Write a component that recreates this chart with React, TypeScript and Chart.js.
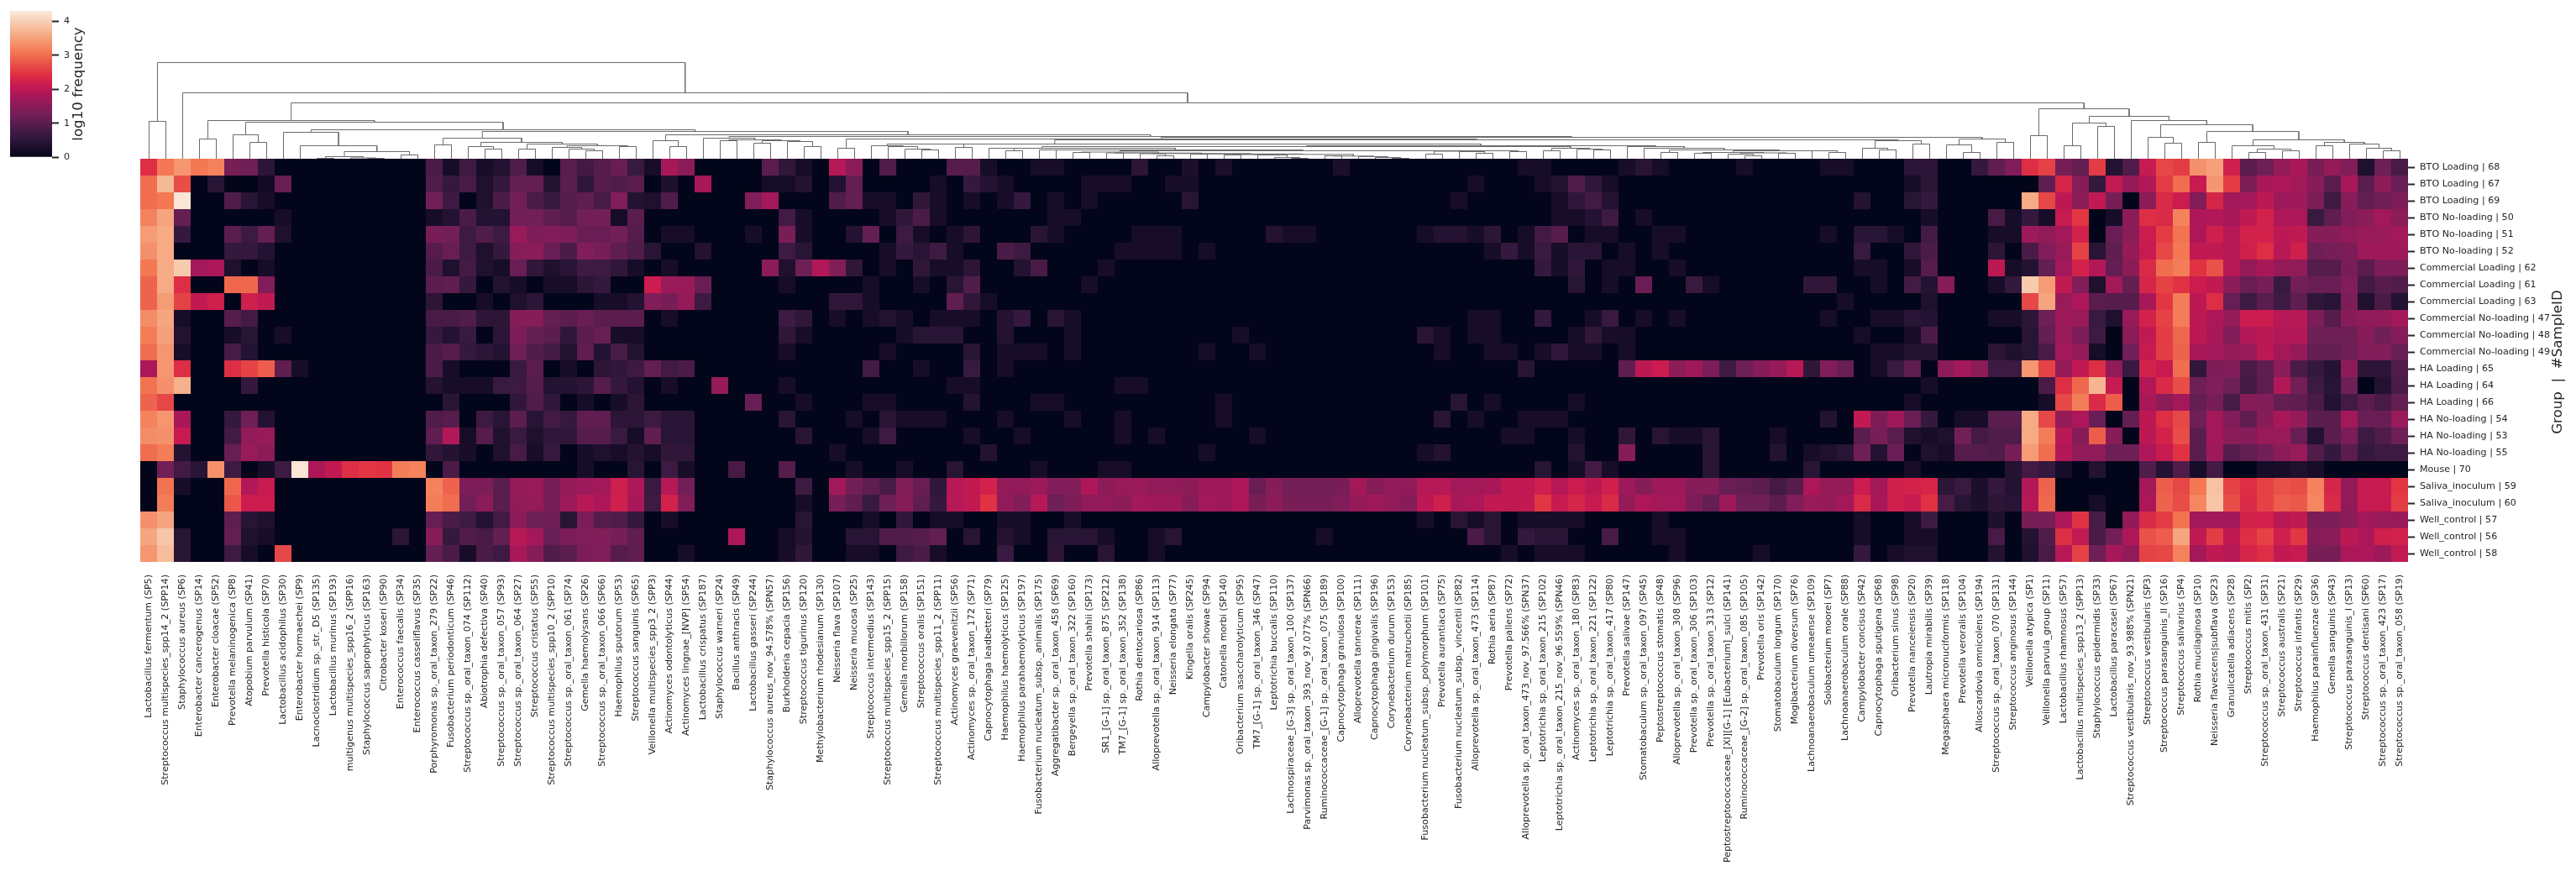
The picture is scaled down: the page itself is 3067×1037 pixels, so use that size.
import React, { useEffect, useRef } from "react";
import { Chart, registerables } from "chart.js";
Chart.register(...registerables);

const FONT = "'DejaVu Sans'";
const INK = "#262626";

const speciesLabels = [
"Lactobacillus fermentum (SP5)","Streptococcus multispecies_spp14_2 (SPP14)","Staphylococcus aureus (SP6)","Enterobacter cancerogenus (SP14)","Enterobacter cloacae (SP52)","Prevotella melaninogenica (SP8)","Atopobium parvulum (SP41)","Prevotella histicola (SP70)","Lactobacillus acidophilus (SP30)","Enterobacter hormaechei (SP9)",
"Lacnoclostridium sp._str._D5 (SP135)","Lactobacillus murinus (SP193)","multigenus multispecies_spp16_2 (SPP16)","Staphylococcus saprophyticus (SP163)","Citrobacter koseri (SP90)","Enterococcus faecalis (SP34)","Enterococcus casseliflavus (SP35)","Porphyromonas sp._oral_taxon_279 (SP22)","Fusobacterium periodonticum (SP46)","Streptococcus sp._oral_taxon_074 (SP112)",
"Abiotrophia defectiva (SP40)","Streptococcus sp._oral_taxon_057 (SP93)","Streptococcus sp._oral_taxon_064 (SP27)","Streptococcus cristatus (SP55)","Streptococcus multispecies_spp10_2 (SPP10)","Streptococcus sp._oral_taxon_061 (SP74)","Gemella haemolysans (SP26)","Streptococcus sp._oral_taxon_066 (SP66)","Haemophilus sputorum (SP53)","Streptococcus sanguinis (SP65)",
"Veillonella multispecies_spp3_2 (SPP3)","Actinomyces odontolyticus (SP44)","Actinomyces lingnae_[NVP] (SP54)","Lactobacillus crispatus (SP187)","Staphylococcus warneri (SP24)","Bacillus anthracis (SP49)","Lactobacillus gasseri (SP244)","Staphylococcus aureus_nov_94.578% (SPN57)","Burkholderia cepacia (SP156)","Streptococcus tigurinus (SP120)",
"Methylobacterium rhodesianum (SP130)","Neisseria flava (SP107)","Neisseria mucosa (SP25)","Streptococcus intermedius (SP143)","Streptococcus multispecies_spp15_2 (SPP15)","Gemella morbillorum (SP158)","Streptococcus oralis (SP151)","Streptococcus multispecies_spp11_2 (SPP11)","Actinomyces graevenitzii (SP56)","Actinomyces sp._oral_taxon_172 (SP71)",
"Capnocytophaga leadbetteri (SP79)","Haemophilus haemolyticus (SP125)","Haemophilus parahaemolyticus (SP197)","Fusobacterium nucleatum_subsp._animalis (SP175)","Aggregatibacter sp._oral_taxon_458 (SP69)","Bergeyella sp._oral_taxon_322 (SP160)","Prevotella shahii (SP173)","SR1_[G-1] sp._oral_taxon_875 (SP212)","TM7_[G-1] sp._oral_taxon_352 (SP138)","Rothia dentocariosa (SP86)",
"Alloprevotella sp._oral_taxon_914 (SP113)","Neisseria elongata (SP77)","Kingella oralis (SP245)","Campylobacter showae (SP94)","Catonella morbi (SP140)","Oribacterium asaccharolyticum (SP95)","TM7_[G-1] sp._oral_taxon_346 (SP47)","Leptotrichia buccalis (SP110)","Lachnospiraceae_[G-3] sp._oral_taxon_100 (SP137)","Parvimonas sp._oral_taxon_393_nov_97.077% (SPN66)",
"Ruminococcaceae_[G-1] sp._oral_taxon_075 (SP189)","Capnocytophaga granulosa (SP100)","Alloprevotella tannerae (SP111)","Capnocytophaga gingivalis (SP196)","Corynebacterium durum (SP153)","Corynebacterium matruchotii (SP185)","Fusobacterium nucleatum_subsp._polymorphum (SP101)","Prevotella aurantiaca (SP75)","Fusobacterium nucleatum_subsp._vincentii (SP82)","Alloprevotella sp._oral_taxon_473 (SP114)",
"Rothia aeria (SP87)","Prevotella pallens (SP72)","Alloprevotella sp._oral_taxon_473_nov_97.566% (SPN37)","Leptotrichia sp._oral_taxon_215 (SP102)","Leptotrichia sp._oral_taxon_215_nov_96.559% (SPN46)","Actinomyces sp._oral_taxon_180 (SP83)","Leptotrichia sp._oral_taxon_221 (SP122)","Leptotrichia sp._oral_taxon_417 (SP80)","Prevotella salivae (SP147)","Stomatobaculum sp._oral_taxon_097 (SP45)",
"Peptostreptococcus stomatis (SP48)","Alloprevotella sp._oral_taxon_308 (SP96)","Prevotella sp._oral_taxon_306 (SP103)","Prevotella sp._oral_taxon_313 (SP12)","Peptostreptococcaceae_[XI][G-1] [Eubacterium]_sulci (SP141)","Ruminococcaceae_[G-2] sp._oral_taxon_085 (SP105)","Prevotella oris (SP142)","Stomatobaculum longum (SP170)","Mogibacterium diversum (SP76)","Lachnoanaerobaculum umeaense (SP109)",
"Solobacterium moorei (SP7)","Lachnoanaerobaculum orale (SP88)","Campylobacter concisus (SP42)","Capnocytophaga sputigena (SP68)","Oribacterium sinus (SP98)","Prevotella nanceiensis (SP20)","Lautropia mirabilis (SP39)","Megasphaera micronuciformis (SP118)","Prevotella veroralis (SP104)","Alloscardovia omnicolens (SP194)",
"Streptococcus sp._oral_taxon_070 (SP131)","Streptococcus anginosus (SP144)","Veillonella atypica (SP1)","Veillonella parvula_group (SP11)","Lactobacillus rhamnosus (SP57)","Lactobacillus multispecies_spp13_2 (SPP13)","Staphylococcus epidermidis (SP33)","Lactobacillus paracasei (SP67)","Streptococcus vestibularis_nov_93.988% (SPN21)","Streptococcus vestibularis (SP3)",
"Streptococcus parasanguinis_II (SP16)","Streptococcus salivarius (SP4)","Rothia mucilaginosa (SP10)","Neisseria flavescens|subflava (SP23)","Granulicatella adiacens (SP28)","Streptococcus mitis (SP2)","Streptococcus sp._oral_taxon_431 (SP31)","Streptococcus australis (SP21)","Streptococcus infantis (SP29)","Haemophilus parainfluenzae (SP36)",
"Gemella sanguinis (SP43)","Streptococcus parasanguinis_I (SP13)","Streptococcus dentisani (SP60)","Streptococcus sp._oral_taxon_423 (SP17)","Streptococcus sp._oral_taxon_058 (SP19)",
];

const sampleLabels = [
"BTO Loading | 68","BTO Loading | 67","BTO Loading | 69","BTO No-loading | 50","BTO No-loading | 51","BTO No-loading | 52",
"Commercial Loading | 62","Commercial Loading | 61","Commercial Loading | 63","Commercial No-loading | 47","Commercial No-loading | 48","Commercial No-loading | 49",
"HA Loading | 65","HA Loading | 64","HA Loading | 66","HA No-loading | 54","HA No-loading | 53","HA No-loading | 55",
"Mouse | 70","Saliva_inoculum | 59","Saliva_inoculum | 60","Well_control | 57","Well_control | 56","Well_control | 58",
];

// each sample: columns 1-34 listed, the sparse middle of the table by column number, columns 105-135 listed
function sample(left: number[], mid: Record<number, number>, right: number[]) {
  const out = new Array(135).fill(0);
  left.forEach((v, i) => { out[i] = v; });
  Object.keys(mid).forEach((k) => { out[Number(k) - 1] = mid[Number(k)]; });
  right.forEach((v, i) => { out[104 + i] = v; });
  return out;
}

const bto68 = sample([2.4,3.1,3.4,3.1,3.2,1.3,1.2,.5,0,0,0,0,0,0,0,0,0,.85,.25,.7,.25,.4,.9,.25,0,1,.75,.95,1.15,.65,.25,1.8,1.5,0],
{38:1,39:.55,40:.25,42:1.95,43:1.5,45:.9,49:.95,50:.95,51:.25,54:.25,55:.25,60:.5,63:.3,65:.3,72:.3,83:.25,84:.25,89:.25,90:.45,91:.25,96:.25,101:.25,102:.25},
[0,.5,.5,0,0,.6,1.05,1.4,2.4,2.6,1.3,1.1,2.55,.4,.9,2.1,2.65,2.55,3.35,3.5,2.2,1,1.2,1.6,1.8,1.3,1.6,1.4,.35,1.2,.8]);
const bto67 = sample([3,3.75,2.7,0,.45,0,0,.2,1.15,0,0,0,0,0,0,0,0,.9,.6,.8,.35,.6,1.1,1.1,.4,1,.55,.95,.9,1,0,.35,0,1.8],
{38:.25,39:.25,40:.4,42:.4,43:1.1,48:.25,50:.6,51:.4,52:.25,57:.25,58:.25,59:.25,62:.25,63:.25,80:.25,84:.25,85:.4,86:.9,87:.55,88:.25},
[0,.25,.5,0,0,0,0,0,0,1.05,2.3,1.45,.6,2.05,1.6,1.9,2.55,3,2.1,3.4,2.55,1.35,1.8,1.85,1.75,1.45,1,1.8,1,1.5,1.15]);
const bto69 = sample([3,3.1,4.25,0,0,.9,.45,.25,0,0,0,0,0,0,0,0,0,1.25,.7,0,.35,.85,1.25,.85,.65,.95,1.05,.8,1.4,.4,.35,.9,0,0],
{37:1.4,38:1.75,42:.9,43:1.1,44:.25,45:.25,47:.55,48:.25,50:.25,52:.25,53:.6,55:.25,57:.25,63:.45,79:.25,85:.25,86:.55,87:.75,88:.4,103:.4},
[0,.45,.6,0,0,0,0,0,3.6,2.65,2,1.5,2.05,1.3,0,1.5,2.35,2.15,1.4,2.3,1.75,1.75,2,1.7,1.7,1.35,.7,1.45,1.1,1.2,1.35]);
const bto50 = sample([3.2,3.55,1.1,0,0,0,0,0,.25,0,0,0,0,0,0,0,0,.25,.4,.85,.4,.4,1.25,1.25,1.05,.95,1.25,1.25,.25,1,0,0,0,0],
{39:.75,40:.25,45:.25,46:.55,47:.85,48:.25,55:.25,56:.25,85:.25,86:.25,87:.4,88:.7,90:.25},
[0,0,.25,0,0,0,.8,.25,.6,.25,2.1,2.5,0,.25,1.5,2.4,2.35,3.2,1.85,1.9,1.8,2.05,2.25,1.85,1.85,.65,1.05,1.4,1.5,1.75,1.5]);
const bto51 = sample([3.45,3.6,.6,0,0,1,.7,1.1,.35,0,0,0,0,0,0,0,0,1.3,1.25,.7,.9,.7,1.65,1.35,1.4,1.35,1.15,1.15,1.25,.95,0,.25,.25,0],
{37:.25,39:1.3,40:.25,43:.4,44:1.1,46:.7,47:.25,49:.25,50:.5,54:.45,55:.25,60:.25,61:.25,62:.25,68:.4,69:.25,70:.25,77:.25,78:.4,79:.4,80:.25,81:.5,83:.25,84:.75,85:.95,87:.25,88:.25,91:.25,92:.25,101:.25,103:.45,104:.45},
[.25,0,.75,0,0,0,.25,.25,1.7,1.55,1.75,2.25,0,1.15,1.5,2.15,2.55,3.05,1.85,2.2,1.95,2.25,2.25,2,2.05,1.45,1.45,1.55,1.65,1.65,1.75]);
const bto52 = sample([3.35,3.6,0,0,0,.6,.6,.4,0,0,0,0,0,0,0,0,0,.95,1.15,.7,.35,.6,1.45,1.5,1.15,.85,1.4,1.3,1.05,.9,.45,0,0,.4],
{39:.7,40:.45,45:.25,46:.6,47:.45,48:.7,49:.25,52:.85,53:.7,59:.25,60:.25,61:.25,62:.25,64:.25,81:.25,82:.6,83:.25,84:.65,85:.25,86:.45,87:.45,89:.25,91:.25,103:.65},
[0,.55,.85,0,0,0,.5,0,.85,1.4,1.65,2.6,.45,1.05,1.6,2.1,2.65,3.1,2.05,2.05,1.95,2.2,2.4,1.95,2.2,1.2,1.3,1.35,1.7,1.7,1.7]);
const com62 = sample([3.1,3.6,3.95,1.75,1.85,.35,0,.25,0,0,0,0,0,0,0,0,0,.85,.35,.75,.35,.25,1.15,.55,.35,.45,.7,.7,.55,.25,0,.25,0,0],
{38:1.5,39:.35,40:1.2,41:1.9,42:1.4,43:.55,45:.25,47:.55,48:.25,49:.25,50:.5,53:.4,54:.8,58:.25,84:.6,85:.25,86:.55,88:.25,89:.25,92:.25,103:.25,104:.25},
[0,.25,.95,0,0,0,2,.25,.4,1.1,1.75,2.25,1.9,1.1,1.5,2.35,3,3.15,2.45,2.75,1.95,1.6,1.8,1.6,1.55,.95,.95,1.3,1,1.35,1.35]);
const com61 = sample([2.9,3.6,2.4,0,0,2.95,2.95,1.4,0,0,0,0,0,0,0,0,0,1,1.05,.6,0,.4,.25,0,.25,.25,.5,.6,0,0,2.15,1.65,1.65,1.15],
{39:.25,44:.25,47:.25,49:.45,50:.9,57:.25,86:.45,88:.25,90:1.15,93:.65,94:.25,100:.55,101:.55,104:.25},
[0,.75,.4,1.45,0,0,.25,.6,3.95,3.45,2.05,1.4,.35,1.75,1.1,2.3,2.6,2.45,2.15,2.05,1.5,1.15,1.3,.65,1.25,1.15,1.15,1.4,.75,.95,.9]);
const com63 = sample([2.9,3.45,2.6,2.05,2.2,0,2.2,2.05,0,0,0,0,0,0,0,0,0,.5,0,0,.25,0,.35,.5,0,0,0,.25,.25,.4,1.4,1.3,1.6,.7],
{42:.55,43:.55,44:.25,49:1.05,50:.55,51:.25,102:.25},
[0,0,.35,0,0,0,0,0,2.65,3.55,1.65,1.85,1,.95,.95,1.8,2.5,3.15,2,2.4,1.15,.7,1,.7,1.05,.55,.45,1.35,.35,.85,.4]);
const com47 = sample([3.3,3.55,.25,0,0,.95,.75,0,0,0,0,0,0,0,0,0,0,.8,.8,.9,.5,.5,1.45,1.45,1.1,1,1.15,1,1,1,0,.25,0,0],
{39:.7,40:.55,42:.25,44:.25,45:.4,46:.25,48:.25,49:.25,50:.25,52:.4,53:.6,55:.45,56:.25,80:.25,81:.25,84:.6,87:.25,88:.65,90:.25,92:.25,101:.25,104:.25},
[.25,.45,.4,0,0,0,.25,.25,.5,1.2,1.7,1.65,.65,.35,1.65,2.25,2.6,3.15,2,1.85,1.6,2.15,2.15,1.95,1.95,1.35,.95,1.45,1.55,1.55,1.75]);
const com48 = sample([3.15,3.5,.4,0,0,.25,.45,0,.25,0,0,0,0,0,0,0,0,.6,.4,.65,0,.5,1.35,1.1,1,.55,1,1.15,.25,.25,0,0,0,0],
{39:.55,40:.25,46:.25,47:.45,48:.45,49:.45,52:.4,56:.25,66:.25,77:.45,78:.25,80:.25,81:.25,86:.25,87:.55,88:.25,89:.25,103:.25},
[0,.25,.85,0,0,0,0,0,.45,1.1,1.65,1.35,.7,0,1.5,2.05,2.55,2.95,2,1.8,1.4,1.9,2,1.9,1.9,1.2,1.2,1.2,1.45,1.2,1.45]);
const com49 = sample([3,3.4,.25,0,0,.8,.4,0,0,0,0,0,0,0,0,0,0,.85,.95,.6,.5,.4,1.2,.9,.75,.4,1.05,.4,.8,.4,0,0,0,0],
{39:.25,45:.25,50:.45,52:.25,53:.25,54:.25,56:.25,64:.25,67:.25,78:.25,81:.25,82:.25,84:.25,85:.55,86:.25,87:.25,89:.25,104:.25},
[.25,.4,.4,0,0,0,.5,.35,.45,.85,1.75,1.6,.25,0,1.25,2.1,2.55,2.9,1.8,1.75,1.6,1.65,2,1.75,1.6,1.1,1.1,1.2,1.4,1.4,1.15]);
const ha65 = sample([1.85,3.4,2.4,0,0,2.4,2.6,2.85,1.05,.25,0,0,0,0,0,0,0,.85,.25,0,0,0,.65,1,0,.25,0,.5,.55,.7,1.1,.75,.85,0],
{44:.75,47:.25,50:.65,52:.25,83:.45,89:1.05,90:2,91:2.15,92:1.5,93:1.7,94:1.35,95:.7,96:1.2,97:1.45,98:1.6,99:1.95,100:.55,101:1.4,102:1.15,104:.25},
[.65,1.05,0,1.5,1.75,1.5,.7,.7,3.4,2.6,1.6,2.05,2.4,1.55,.65,2.25,2.1,3,.55,1.35,1.4,.85,1.05,1.5,.85,.6,.4,1.5,.5,.5,.9]);
const ha64 = sample([3.05,3.35,3.65,0,0,0,.6,0,0,0,0,0,0,0,0,0,0,.4,.25,.25,.25,.65,.7,.95,.4,.4,.5,.95,.6,.4,0,.25,0,0],
{35:1.6,39:.25,49:.25,50:.25,59:.25,60:.25},
[0,0,.25,0,0,0,0,0,0,.85,2.4,2.95,3.7,2.1,0,1.9,2.35,2.7,1.2,1.4,1.2,.75,1.05,1.9,1.25,.7,.45,1.2,0,.4,.85]);
const ha66 = sample([2.9,2.65,0,0,0,0,0,0,0,0,0,0,0,0,0,0,0,0,.45,0,0,0,.55,.9,.55,0,.25,0,.25,.5,0,0,0,0],
{37:1.15,40:.25,44:.25,45:.25,50:.4,54:.25,55:.25,65:.25,79:.45,81:.25,86:.25},
[0,.25,0,0,0,0,0,0,0,.25,2.65,3.15,2.35,2.85,0,1.8,1.5,1.75,1.1,1.3,.8,1.45,1.4,1.1,1.05,.85,.4,.75,1,.8,1.1]);
const ha54 = sample([3.2,3.4,1.8,0,0,.6,1.2,.4,0,0,0,0,0,0,0,0,0,.9,.95,0,.7,.45,1,.45,.75,.6,1.05,1.05,.5,.5,.7,.45,.45,0],
{39:.45,43:.25,45:.45,46:.25,47:.25,48:.25,52:.25,56:.25,59:.25,65:.25,78:.45,80:.25,83:.25,84:.25,85:.25,101:.4,103:2.05,104:1.35},
[1.7,1.15,.6,0,.25,.25,1,1,3.6,2.65,1.6,1.85,1.15,0,1.1,2,2.4,2.65,1.2,1.75,1.4,1.05,1.45,1.8,1.6,1,1,1.75,1.15,1.15,1.65]);
const ha53 = sample([3.3,3.35,2.1,0,0,.75,1.55,1.65,0,0,0,0,0,0,0,0,0,1.05,1.9,.25,.95,.35,.65,.35,.55,.55,.95,.95,.65,.25,1.05,.45,.45,0],
{40:.45,44:.25,45:.7,50:.25,53:.25,59:.25,61:.25,67:.25,82:.25,83:.25,86:.25,89:.55,91:.45,92:.25,93:.25,94:.45,98:.25,103:1,104:1.3},
[1,.35,.25,.35,1.25,.75,.9,.9,3.6,3.15,1.95,1.45,2.85,1.45,0,2,2.25,2.7,1,1.75,1.5,1.45,1.65,1.65,1.15,.4,1,1.35,.7,.9,1.2]);
const ha55 = sample([3,3.15,.4,0,0,1.15,1.65,1.5,0,0,0,0,0,0,0,0,0,.55,.4,.25,0,.35,.8,.25,.6,0,.25,.35,.25,.4,.25,.55,.55,0],
{42:.25,51:.4,64:.25,77:.25,78:.4,86:.4,89:1.45,94:.45,98:.4,100:.25,101:.35,102:.45,103:1.2,104:.4},
[1.15,0,.35,.25,.95,.95,.9,1.3,3.45,3,1.9,1.55,1.55,1.2,1.2,1.85,2.1,2.45,1,1.7,.95,1.1,1.25,1.5,1.65,.9,.6,1,.6,.7,.7]);
const mouse70 = sample([0,1.25,.75,.45,3.35,.7,0,.25,.7,4.25,1.85,2.05,2.4,2.5,2.45,3.15,3.2,0,.85,0,0,0,0,0,0,0,.25,0,0,.45,0,.7,.25,0],
{36:.8,39:.95,43:.25,46:.25,49:.45,54:.25,58:.25,59:.25,84:.45,86:.25,87:.75,88:.25,94:.45,100:.45},
[0,.25,0,0,0,0,0,.4,.75,.6,.25,0,.4,0,0,.9,.4,.9,.25,.75,0,0,.25,.25,.35,.25,0,0,0,0,0]);
const saliva59 = sample([0,3.05,.25,0,0,2.95,1.9,2.1,0,0,0,0,0,0,0,0,0,3.2,2.9,1.35,1.35,1,1.6,1.65,1.3,1.6,1.7,1.75,2.2,1.85,.65,1.95,1.25,0],
{40:.7,42:1.75,43:1.25,44:1.05,45:.8,46:1.4,47:1.15,48:.55,49:1.95,50:2.05,51:2.25,52:1.55,53:1.55,54:1.7,55:1.4,56:1.4,57:1.85,58:1.5,59:1.65,60:1.65,61:1.55,62:1.55,63:1.5,64:1.7,65:1.7,66:1.85,67:1.15,68:1.45,69:1.25,70:1.25,71:1.25,72:1.3,73:1.75,74:1.45,75:1.55,76:1.55,77:1.95,78:1.95,79:1.75,80:1.75,81:1.8,82:2.05,83:2.05,84:2.2,85:1.95,86:2.15,87:2,88:2.2,89:1.7,90:1.45,91:1.7,92:1.7,93:1.45,94:1.45,95:1.15,96:1.1,97:1,98:.75,99:.95,100:1.85,101:1.6,102:1.6,103:2.15,104:1.75},
[2.2,2.25,2.3,.5,.65,.3,.6,.4,1.9,2.9,0,0,0,0,0,1.75,2.85,2.65,3.1,3.85,2.6,2.4,2.6,2.75,2.7,3.2,2.3,1.6,2.1,2.1,2.5]);
const saliva60 = sample([0,3.15,0,0,0,2.8,2.15,2.15,0,0,0,0,0,0,0,0,0,3.15,3,1.25,1.5,1,1.55,1.6,1.3,1.7,1.95,1.85,2.2,1.8,.7,2.25,1.4,0],
{40:.25,42:1.3,43:1.05,44:.65,45:1.2,46:1.45,47:1.05,48:.6,49:1.95,50:2.05,51:2.45,52:1.55,53:1.4,54:1.95,55:1.2,56:1.35,57:1.55,58:1.55,59:1.5,60:1.75,61:1.7,62:1.7,63:1.45,64:1.75,65:1.7,66:1.85,67:1.3,68:1.5,69:1.3,70:1.3,71:1.3,72:1.4,73:1.6,74:1.7,75:1.55,76:1.45,77:2,78:2.2,79:1.8,80:1.85,81:2.05,82:2.05,83:2.05,84:2.5,85:2.1,86:2.3,87:2.1,88:2.35,89:1.6,90:1.85,91:1.75,92:1.75,93:1.35,94:1.1,95:1.7,96:1.2,97:1.2,98:1,99:1.4,100:1.65,101:1.6,102:1.75,103:2.35,104:1.8},
[2.2,2.1,2.45,.8,.45,.3,.5,.45,1.95,2.95,0,0,.25,0,0,1.85,2.9,2.7,3.25,3.9,2.7,2.35,2.6,2.85,2.8,3.25,2.35,1.55,2.1,2.1,2.55]);
const well57 = sample([3.35,3.55,0,0,0,1.05,.45,.35,0,0,0,0,0,0,0,0,0,1.15,.85,.7,.4,.75,1.5,1.2,1.2,.45,1.35,.95,.9,.6,0,.25,0,0],
{40:.45,44:.25,46:.55,48:.25,49:.25,52:.25,53:.25,56:.25,77:.25,79:.45,80:.25,81:.45,83:.25,84:.25,85:.25,86:.25,91:.25,103:.25},
[0,.25,.7,0,0,0,.35,0,1.3,1.3,1.85,2.45,.8,0,1.55,2.35,2.55,3.05,1.75,1.75,1.75,2.25,2.25,1.95,2.05,1.35,1.35,1.5,1.75,1.65,1.65]);
const well56 = sample([3.55,3.9,.45,0,0,1.1,.35,.25,0,0,0,0,0,0,0,.5,0,1.45,.6,.9,.8,1.1,1.95,1.75,1.15,1.35,1.4,1.4,1.3,1.05,0,0,0,0],
{36:1.85,39:.25,40:.4,43:.45,44:.45,45:.9,46:.9,47:.95,48:1.1,50:.45,52:.4,53:.25,55:.45,56:.45,57:.45,58:.25,61:.25,62:.45,71:.25,80:.85,81:.45,83:.6,84:.45,85:.45,88:.8,91:.25,92:.25,103:.25},
[0,.25,.25,0,0,0,.8,0,.4,.9,2.4,2.05,.85,1.25,1.85,2.75,2.85,3.55,2.05,2.55,2.05,2.4,2.6,2.2,2.5,1.45,1.5,2,1.85,2.2,2.25]);
const well58 = sample([3.4,3.8,.45,0,0,.7,.25,0,2.65,0,0,0,0,0,0,0,0,1.1,.85,.25,.85,.7,1.8,1.45,.9,1,1.35,1.4,.95,1.05,0,0,.25,0],
{39:.25,40:.55,43:.25,44:.25,46:.7,47:.85,48:.25,52:.65,55:.5,58:.45,61:.25,82:.25,84:.25,85:.25,86:.25,92:.25,97:.25,103:.6},
[.25,.35,.35,0,0,0,.4,0,.35,.8,1.95,2.6,1.2,1.8,1.55,2.6,2.65,3.2,1.75,2.05,1.95,2.3,2.4,2.05,2.1,1.3,1.3,1.85,1.85,1.7,2.05]);

const sampleRows = [bto68,bto67,bto69,bto50,bto51,bto52,com62,com61,com63,com47,com48,com49,ha65,ha64,ha66,ha54,ha53,ha55,mouse70,saliva59,saliva60,well57,well56,well58];

// merges of the column tree: name, left child, right child, merge height
// a child is a column number (1-135) or the name of an earlier merge
const columnMerges: [string, number | string, number | string, number][] = [
["a12",1,2,44.5],["n1112",11,12,.5],["n1415",14,15,.5],["n13",13,"n1415",1],["K","n1112","n13",2.5],["n1617",16,17,4.5],["J","K","n1617",8.5],["I",10,"J",15.5],["H",9,"I",31.5],
["n45",4,5,23.5],["n78",7,8,19.5],["E",6,"n78",28.5],
["n1819",18,19,16.5],["n2122",21,22,11.5],["n20",20,"n2122",14.5],["n2324",23,24,11.5],["n2728",27,28,9.5],["n26",26,"n2728",11.5],["Q",25,"n26",13.5],["n2930",29,30,14.5],["P","Q","n2930",15.5],["O","n2324","P",17.5],["N","n20","O",19.5],["M","n1819","N",24.5],
["n3233",32,33,14.5],["S",31,"n3233",21.5],
["n3536",35,36,21.5],["n3738",37,38,18.5],["n4041",40,41,14.5],["n39",39,"n4041",20.5],["n3739","n3738","n39",21.5],["n3540","n3536","n3739",22.5],["n34",34,"n3540",24.5],
["n4243",42,43,12.5],["n4748",47,48,10.5],["n46",46,"n4748",11.5],["n45b",45,"n46",14.5],["AA",44,"n45b",15.5],["n4950",49,50,13.5],
["n5253",52,53,9.5],["n5455",54,55,10.5],["n5657",56,57,7.5],["n5859",58,59,7],["n6162",61,62,3.5],["b",60,"n6162",6],["n6364",63,64,5.5],["n6566",65,66,4.5],["n6970",69,70,.5],["g",68,"n6970",1.5],["f",67,"g",4.5],["p","n6566","f",5],["n7172",71,72,3.5],["n7576",75,76,.5],["j2",74,"n7576",1.5],["j3",73,"j2",2.5],["i2","n7172","j3",3.2],["q","p","i2",5.2],["r","n6364","q",5.7],["t","b","r",6.2],["u","n5859","t",6.8],["v","n5657","u",8],
["n7778",77,78,5.5],["n8081",80,81,6.5],["w",79,"n8081",8.5],["x","n7778","w",9],["n8283",82,83,8.5],["y","x","n8283",9.5],["AI","v","y",9.5],["AH","n5455","AI",10.5],["AG","n5253","AH",12.5],["AF",51,"AG",12.5],
["n8485",84,85,9.5],["n8788",87,88,10.5],["n86",86,"n8788",11.5],["n84","n8485","n86",12.5],
["n9192",91,92,7.5],["n9394",93,94,6.5],["n9697",96,97,3.5],["n95",95,"n9697",5.5],["n9899",98,99,6.5],["n9599","n95","n9899",7],["n9399","n9394","n9599",7.5],["n102",101,102,7.5],["n100",100,"n102",9.5],["n93100","n9399","n100",9.5],["n91","n9192","n93100",10.5],["n90",90,"n91",12.5],["n89",89,"n90",14.5],
["AD","AF","n84",14.5],["AC","AD","n89",15.5],["AB","n4950","AC",17.5],["Z","AA","AB",17.5],
["n104",104,105,10.5],["n103",103,"n104",12.5],["n107",106,107,17.5],["X","n103","n107",21.5],["W","Z","X",22.5],["V","n4243","W",23.5],
["n110",109,110,7.5],["n108",108,"n110",16.5],["n112",111,112,19.5],["Y","n108","n112",23.5],["U","V","Y",25.5],["T","n34","U",26.5],["R","S","T",28.5],["L","M","R",32.5],["G","H","L",34.5],["D","E","G",43.5],["C","n45","D",45.5],
["n114",113,114,27.5],["n116",115,116,15.5],["n118",117,118,38.5],["m116","n116","n118",42.5],["n122",121,122,18.5],["n120",120,"n122",25.5],["n124",123,124,19.5],["n127",126,127,7.5],["n129",128,129,9.5],["m127","n127","n129",11.5],["m125",125,"m127",15.5],["n131",130,131,15.5],["n135",134,135,9.5],["m133",133,"n135",12.5],["m132",132,"m133",17.5],["m130","n131","m132",19.5],["m126","m125","m130",22.5],["m123","n124","m126",32.5],["m120","n120","m123",40.5],["m119",119,"m120",45.5],["m117","m116","m119",50.5],["m113","n114","m117",59.5],
["B","C","m113",66.5],["A",3,"B",78.5],["root","a12","A",114.5],
];

const colorbarTicks = [0, 1, 2, 3, 4];
const COLOR_MAX = 4.31;

// the "rocket" colour map
const rocketStops: [number, number[]][] = [
  [0, [3, 5, 26]], [1 / 7, [53, 25, 62]], [2 / 7, [112, 31, 87]], [3 / 7, [173, 23, 89]],
  [0.5, [203, 27, 79]], [4 / 7, [225, 51, 66]], [5 / 7, [243, 118, 81]], [6 / 7, [246, 180, 143]], [1, [250, 235, 221]],
];
function rocket(v: number) {
  const t = Math.min(1, Math.max(0, v / COLOR_MAX));
  for (let i = 1; i < rocketStops.length; i++) {
    const [t1, c1] = rocketStops[i];
    const [t0, c0] = rocketStops[i - 1];
    if (t <= t1) {
      const f = (t - t0) / (t1 - t0);
      return `rgb(${c0.map((c, k) => Math.round(c + (c1[k] - c) * f)).join(",")})`;
    }
  }
  return "rgb(250,235,221)";
}

function dendrogramPoints() {
  const pos: Record<string, { x: number; h: number }> = {};
  const get = (c: number | string) => (typeof c === "number" ? { x: c, h: 0 } : pos[c]);
  const pts: ({ x: number; y: number } | null)[] = [];
  columnMerges.forEach(([id, a, b, h]) => {
    const l = get(a), r = get(b);
    pts.push({ x: l.x, y: l.h }, { x: l.x, y: h }, { x: r.x, y: h }, { x: r.x, y: r.h }, { x: NaN, y: NaN });
    pos[id] = { x: (l.x + r.x) / 2, h };
  });
  return pts;
}

function rotatedText(text: string, x: number, y: number) {
  return {
    id: "rotatedText" + text.length,
    afterDraw(chart: any) {
      const c = chart.ctx;
      c.save();
      c.translate(x, y);
      c.rotate(-Math.PI / 2);
      c.font = `16.67px ${FONT}`;
      c.fillStyle = INK;
      c.textAlign = "center";
      c.textBaseline = "middle";
      c.fillText(text, 0, 0);
      c.restore();
    },
  };
}

export default function App() {
  const heatRef = useRef<HTMLCanvasElement>(null);
  const treeRef = useRef<HTMLCanvasElement>(null);
  const barRef = useRef<HTMLCanvasElement>(null);

  useEffect(() => {
    const heat = new Chart(heatRef.current!, {
      type: "bar",
      data: {
        labels: speciesLabels,
        datasets: sampleRows.map((row, r) => ({
          label: sampleLabels[r],
          data: row.map(() => [r, r + 1]),
          backgroundColor: (ctx: any) => rocket(row[ctx.dataIndex]),
          borderWidth: 0,
          grouped: false,
          barPercentage: 1,
          categoryPercentage: 1,
          inflateAmount: 0,
        })),
      } as any,
      options: {
        responsive: false, animation: false, events: [],
        layout: { padding: { left: 167, top: 189, right: 0, bottom: 0 } },
        plugins: { legend: { display: false }, tooltip: { enabled: false } },
        scales: {
          x: {
            type: "category",
            grid: { display: false, drawTicks: false },
            border: { display: false },
            ticks: { autoSkip: false, minRotation: 90, maxRotation: 90, padding: 15, color: INK, font: { family: FONT, size: 11.1 } },
            afterFit: (s: any) => { s.height = 368; },
          },
          y: {
            type: "linear", position: "right", reverse: true, min: 0, max: 24,
            afterBuildTicks: (s: any) => { s.ticks = sampleLabels.map((_, i) => ({ value: i + 0.5 })); },
            grid: { drawOnChartArea: false, drawTicks: true, tickLength: 8, tickWidth: 2, tickColor: INK },
            border: { display: false },
            ticks: { autoSkip: false, padding: 6, color: INK, font: { family: FONT, size: 11.1 }, callback: (v: any) => sampleLabels[Math.floor(v)] },
            afterFit: (s: any) => { s.width = 200; },
          },
        },
      } as any,
      plugins: [rotatedText("Group  |  #SampleID", 3046, 431)],
    });

    const tree = new Chart(treeRef.current!, {
      type: "scatter",
      data: { datasets: [{ data: dendrogramPoints(), showLine: true, spanGaps: false, borderColor: "#6b6b6b", borderWidth: 1, pointRadius: 0, tension: 0 }] } as any,
      options: {
        responsive: false, animation: false, events: [],
        layout: { padding: 0 },
        plugins: { legend: { display: false }, tooltip: { enabled: false } },
        scales: {
          x: { type: "linear", display: false, min: 0.475, max: 135.475 },
          y: { type: "linear", display: false, min: 0, max: 189 },
        },
      } as any,
    });

    const bar = new Chart(barRef.current!, {
      type: "bar",
      data: {
        labels: ["log10 frequency"],
        datasets: [{
          data: [[0, COLOR_MAX]], barPercentage: 1, categoryPercentage: 1, borderWidth: 0, inflateAmount: 0,
          backgroundColor: (ctx: any) => {
            const { chart } = ctx;
            if (!chart.chartArea) return rocket(1);
            const g = chart.ctx.createLinearGradient(0, chart.chartArea.bottom, 0, chart.chartArea.top);
            rocketStops.forEach(([t, c]) => g.addColorStop(t, `rgb(${c.join(",")})`));
            return g;
          },
        }],
      } as any,
      options: {
        responsive: false, animation: false, events: [],
        layout: { padding: { left: 12, top: 9, right: 0, bottom: 11 } },
        plugins: { legend: { display: false }, tooltip: { enabled: false } },
        scales: {
          x: { display: false },
          y: {
            type: "linear", position: "right", min: 0, max: COLOR_MAX,
            afterBuildTicks: (s: any) => { s.ticks = colorbarTicks.map((value) => ({ value })); },
            grid: { drawOnChartArea: false, drawTicks: true, tickLength: 8, tickWidth: 2, tickColor: INK },
            border: { display: false },
            ticks: { padding: 6, color: INK, font: { family: FONT, size: 11.1 } },
            afterFit: (s: any) => { s.width = 98; },
          },
        },
      } as any,
      plugins: [rotatedText("log10 frequency", 94, 100)],
    });

    return () => { heat.destroy(); tree.destroy(); bar.destroy(); };
  }, []);

  const abs = (left: number, top: number): React.CSSProperties => ({ position: "absolute", left, top, display: "block" });
  return (
    <div style={{ position: "absolute", left: 0, top: 0, width: 3067, height: 1037, overflow: "hidden", background: "#fff" }}>
      <canvas ref={heatRef} width={3067} height={1037} style={abs(0, 0)} />
      <canvas ref={treeRef} width={2700} height={189} style={abs(167, 0)} />
      <canvas ref={barRef} width={160} height={200} style={abs(0, 0)} />
    </div>
  );
}
